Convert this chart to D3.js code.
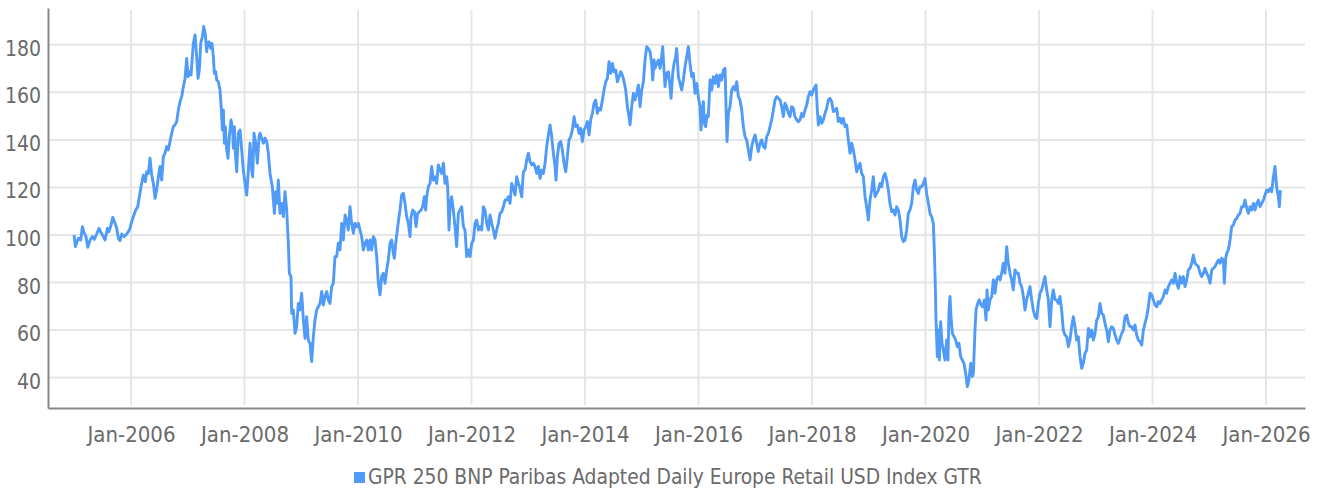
<!DOCTYPE html>
<html>
<head>
<meta charset="utf-8">
<script src="https://cdn.jsdelivr.net/npm/d3@7"></script>
<style>
  html, body { margin: 0; padding: 0; background: #fff; }
  #chart text { font-family: "Liberation Sans Narrow", "DejaVu Sans Condensed", Roboto, sans-serif; fill: #6a6a6a; }
</style>
</head>
<body>
<svg id="chart" width="1323" height="493"></svg>
<script>
(function () {
  "use strict";

  var seriesName = "GPR 250 BNP Paribas Adapted Daily Europe Retail USD Index GTR";
  var yTicks = [40, 60, 80, 100, 120, 140, 160, 180];
  var xTicks = [2006, 2008, 2010, 2012, 2014, 2016, 2018, 2020, 2022, 2024, 2026];

  // [decimal year, index value]
  var index = [
    [2004.996,100.0],[2005.019,95.1],[2005.072,98.6],[2005.113,97.9],[2005.143,103.5],[2005.172,101.0],
    [2005.207,99.3],[2005.237,94.8],[2005.278,97.9],[2005.319,99.3],[2005.354,98.2],[2005.395,100.4],
    [2005.436,102.8],[2005.471,101.0],[2005.513,99.3],[2005.542,97.9],[2005.583,102.8],[2005.612,101.4],
    [2005.648,104.2],[2005.677,107.4],[2005.718,104.9],[2005.748,102.8],[2005.777,98.6],[2005.806,97.6],
    [2005.836,100.4],[2005.877,99.3],[2005.924,100.4],[2005.953,101.4],[2005.982,102.8],[2006.012,105.6],
    [2006.041,107.7],[2006.082,110.5],[2006.118,111.9],[2006.147,116.1],[2006.176,120.3],[2006.217,125.2],
    [2006.253,122.4],[2006.276,126.6],[2006.306,125.9],[2006.335,132.3],[2006.364,125.2],[2006.394,121.7],
    [2006.423,115.4],[2006.452,118.9],[2006.482,124.5],[2006.511,128.8],[2006.540,123.1],[2006.570,133.0],
    [2006.599,134.4],[2006.629,137.2],[2006.658,135.8],[2006.687,139.3],[2006.717,142.8],[2006.746,145.6],
    [2006.775,146.3],[2006.805,147.7],[2006.834,152.6],[2006.864,156.1],[2006.893,158.2],[2006.922,162.4],
    [2006.952,165.9],[2006.981,174.3],[2007.005,166.6],[2007.028,168.7],[2007.057,167.3],[2007.098,180.6],
    [2007.128,184.2],[2007.157,175.0],[2007.181,165.9],[2007.204,169.4],[2007.228,180.6],[2007.257,183.4],
    [2007.281,187.7],[2007.310,184.2],[2007.333,177.1],[2007.351,180.6],[2007.375,181.3],[2007.404,178.5],
    [2007.427,180.6],[2007.451,175.0],[2007.468,168.0],[2007.492,168.7],[2007.510,165.2],[2007.539,164.5],
    [2007.568,161.0],[2007.592,152.6],[2007.609,144.2],[2007.627,152.6],[2007.645,138.6],[2007.662,145.6],
    [2007.686,135.8],[2007.709,132.3],[2007.733,141.4],[2007.762,148.4],[2007.792,144.2],[2007.803,136.5],
    [2007.821,145.6],[2007.839,134.4],[2007.862,126.6],[2007.891,142.8],[2007.921,144.2],[2007.950,135.8],
    [2007.979,127.3],[2008.009,121.7],[2008.038,116.8],[2008.068,127.3],[2008.097,138.6],[2008.126,127.3],
    [2008.144,124.5],[2008.167,142.8],[2008.197,138.6],[2008.226,130.2],[2008.256,141.4],[2008.273,142.8],
    [2008.303,140.7],[2008.332,138.6],[2008.361,140.7],[2008.391,139.3],[2008.420,134.4],[2008.449,125.9],
    [2008.490,120.3],[2008.526,109.1],[2008.549,118.2],[2008.572,113.3],[2008.596,123.1],[2008.625,109.1],
    [2008.655,113.3],[2008.684,107.7],[2008.713,118.2],[2008.743,110.5],[2008.772,96.5],[2008.790,83.9],
    [2008.819,82.5],[2008.831,67.0],[2008.860,68.4],[2008.890,58.6],[2008.919,61.4],[2008.948,71.2],
    [2008.972,68.4],[2009.007,75.5],[2009.037,64.2],[2009.066,56.5],[2009.095,65.6],[2009.125,55.8],
    [2009.154,54.4],[2009.183,46.7],[2009.213,57.2],[2009.242,64.2],[2009.271,68.4],[2009.301,69.8],
    [2009.330,71.2],[2009.360,76.2],[2009.389,70.5],[2009.418,74.1],[2009.448,76.2],[2009.477,72.7],
    [2009.506,71.2],[2009.536,78.3],[2009.565,79.7],[2009.594,90.9],[2009.624,90.9],[2009.653,96.5],
    [2009.683,93.7],[2009.712,104.9],[2009.741,97.9],[2009.771,108.4],[2009.800,106.3],[2009.829,102.1],
    [2009.859,111.9],[2009.888,104.9],[2009.918,100.7],[2009.947,104.9],[2009.976,103.5],[2010.006,104.9],
    [2010.035,102.1],[2010.064,99.3],[2010.094,93.7],[2010.123,96.5],[2010.153,97.9],[2010.182,93.7],
    [2010.211,97.9],[2010.241,93.7],[2010.270,99.3],[2010.299,97.9],[2010.329,90.9],[2010.358,79.7],
    [2010.387,74.8],[2010.417,82.5],[2010.446,83.9],[2010.476,79.7],[2010.505,85.3],[2010.534,89.5],
    [2010.564,96.5],[2010.593,97.9],[2010.622,92.3],[2010.640,90.2],[2010.664,96.5],[2010.693,102.1],
    [2010.722,107.7],[2010.740,110.5],[2010.769,116.8],[2010.799,117.5],[2010.828,113.3],[2010.857,107.7],
    [2010.887,104.9],[2010.916,99.3],[2010.934,107.7],[2010.963,110.5],[2010.993,109.8],[2011.022,103.5],
    [2011.051,109.1],[2011.081,109.8],[2011.110,110.5],[2011.139,111.9],[2011.169,116.1],[2011.192,110.5],
    [2011.210,116.1],[2011.239,120.3],[2011.269,121.7],[2011.298,128.8],[2011.327,123.1],[2011.357,124.5],
    [2011.386,121.7],[2011.415,129.5],[2011.445,127.3],[2011.474,125.9],[2011.504,130.2],[2011.533,121.7],
    [2011.562,124.5],[2011.580,120.3],[2011.603,102.1],[2011.627,113.3],[2011.650,116.1],[2011.680,110.5],
    [2011.709,103.5],[2011.738,95.1],[2011.768,109.1],[2011.797,110.5],[2011.827,111.9],[2011.856,103.5],
    [2011.885,102.1],[2011.915,90.9],[2011.944,93.7],[2011.974,90.9],[2012.003,96.5],[2012.033,97.9],
    [2012.062,104.9],[2012.091,106.3],[2012.121,102.1],[2012.150,103.5],[2012.180,102.1],[2012.209,111.9],
    [2012.238,110.5],[2012.268,104.9],[2012.297,102.1],[2012.326,108.4],[2012.356,104.9],[2012.385,102.1],
    [2012.414,98.6],[2012.444,102.1],[2012.473,104.9],[2012.503,109.1],[2012.532,109.8],[2012.561,111.9],
    [2012.591,114.7],[2012.620,114.7],[2012.649,116.1],[2012.679,113.3],[2012.708,121.7],[2012.738,119.6],
    [2012.767,116.8],[2012.796,124.5],[2012.826,121.7],[2012.855,119.6],[2012.884,116.1],[2012.914,126.6],
    [2012.943,127.3],[2012.973,131.6],[2013.002,134.4],[2013.031,130.9],[2013.061,129.5],[2013.090,130.2],
    [2013.119,128.8],[2013.149,125.9],[2013.178,128.8],[2013.207,123.8],[2013.237,127.3],[2013.266,125.9],
    [2013.296,130.2],[2013.325,137.2],[2013.354,142.1],[2013.384,146.3],[2013.413,141.4],[2013.442,134.4],
    [2013.472,128.8],[2013.489,123.1],[2013.513,133.0],[2013.542,138.6],[2013.572,139.3],[2013.601,135.8],
    [2013.630,130.2],[2013.660,126.6],[2013.689,133.0],[2013.718,140.0],[2013.748,141.4],[2013.777,144.2],
    [2013.807,149.8],[2013.836,145.6],[2013.865,146.3],[2013.895,142.8],[2013.924,144.9],[2013.953,139.3],
    [2013.983,144.2],[2014.012,145.6],[2014.041,147.7],[2014.071,142.1],[2014.100,148.4],[2014.130,151.2],
    [2014.159,155.4],[2014.188,156.8],[2014.218,151.2],[2014.247,153.3],[2014.276,152.6],[2014.306,156.8],
    [2014.335,161.0],[2014.365,164.5],[2014.394,165.9],[2014.423,172.9],[2014.453,168.0],[2014.482,172.2],
    [2014.511,168.7],[2014.541,169.4],[2014.570,164.5],[2014.600,166.6],[2014.629,168.7],[2014.658,167.3],
    [2014.688,164.5],[2014.717,161.0],[2014.746,154.0],[2014.776,149.8],[2014.793,146.3],[2014.823,154.0],
    [2014.852,159.6],[2014.881,156.8],[2014.911,159.6],[2014.940,163.1],[2014.970,154.0],[2014.999,161.0],
    [2015.028,164.5],[2015.058,173.6],[2015.087,179.2],[2015.116,178.5],[2015.146,177.1],[2015.175,172.2],
    [2015.193,165.2],[2015.216,173.6],[2015.234,170.1],[2015.263,172.2],[2015.293,173.6],[2015.322,170.1],
    [2015.351,175.0],[2015.369,179.2],[2015.392,169.4],[2015.410,162.4],[2015.439,168.0],[2015.469,168.7],
    [2015.498,162.4],[2015.516,157.5],[2015.545,168.0],[2015.569,172.2],[2015.598,175.0],[2015.615,178.5],
    [2015.645,166.6],[2015.674,163.8],[2015.703,161.0],[2015.733,165.2],[2015.762,170.8],[2015.792,175.0],
    [2015.821,179.2],[2015.850,172.2],[2015.880,166.6],[2015.909,168.0],[2015.938,159.6],[2015.968,163.8],
    [2015.997,158.2],[2016.026,154.0],[2016.044,144.2],[2016.068,152.6],[2016.085,156.1],[2016.103,147.0],
    [2016.126,145.6],[2016.150,150.5],[2016.173,149.8],[2016.203,165.2],[2016.232,161.0],[2016.261,166.6],
    [2016.291,163.8],[2016.320,167.3],[2016.350,162.4],[2016.379,167.3],[2016.408,165.2],[2016.438,169.4],
    [2016.467,170.1],[2016.485,154.0],[2016.502,139.3],[2016.526,151.2],[2016.555,154.0],[2016.585,161.0],
    [2016.614,162.4],[2016.643,161.0],[2016.673,164.5],[2016.702,158.2],[2016.731,156.8],[2016.761,152.6],
    [2016.790,145.6],[2016.819,141.4],[2016.849,140.0],[2016.878,135.8],[2016.908,131.6],[2016.937,137.2],
    [2016.966,140.0],[2016.996,142.1],[2017.025,138.6],[2017.054,135.1],[2017.084,138.6],[2017.113,140.0],
    [2017.142,137.2],[2017.172,136.5],[2017.201,141.4],[2017.231,142.8],[2017.260,145.6],[2017.289,148.4],
    [2017.319,152.6],[2017.348,156.8],[2017.377,158.2],[2017.407,157.5],[2017.436,156.8],[2017.466,154.0],
    [2017.495,149.8],[2017.524,155.4],[2017.554,154.0],[2017.583,151.2],[2017.612,149.8],[2017.642,154.0],
    [2017.671,153.3],[2017.700,149.8],[2017.730,148.4],[2017.759,147.7],[2017.789,148.4],[2017.818,151.2],
    [2017.847,149.8],[2017.877,152.6],[2017.906,154.7],[2017.935,158.2],[2017.965,160.3],[2017.994,158.9],
    [2018.024,161.0],[2018.053,162.4],[2018.071,163.1],[2018.094,152.6],[2018.112,146.3],[2018.141,149.8],
    [2018.170,147.0],[2018.200,148.4],[2018.229,151.2],[2018.258,153.3],[2018.288,156.8],[2018.317,157.5],
    [2018.347,156.1],[2018.376,151.9],[2018.405,152.6],[2018.435,153.3],[2018.464,147.7],[2018.493,149.1],
    [2018.523,147.0],[2018.552,149.1],[2018.582,145.6],[2018.611,146.3],[2018.640,140.0],[2018.670,134.4],
    [2018.699,138.6],[2018.728,135.8],[2018.758,131.6],[2018.787,126.6],[2018.816,128.8],[2018.846,130.2],
    [2018.875,125.9],[2018.905,124.5],[2018.934,116.1],[2018.963,111.9],[2018.993,106.3],[2019.022,114.7],
    [2019.051,118.9],[2019.081,124.5],[2019.110,116.1],[2019.140,117.5],[2019.169,118.9],[2019.198,121.7],
    [2019.228,120.3],[2019.257,124.5],[2019.286,125.9],[2019.316,123.1],[2019.345,118.9],[2019.374,113.3],
    [2019.404,109.8],[2019.433,110.5],[2019.462,108.4],[2019.492,111.9],[2019.521,110.5],[2019.551,106.3],
    [2019.580,99.3],[2019.609,97.2],[2019.639,97.9],[2019.668,102.1],[2019.697,109.1],[2019.727,110.5],
    [2019.756,113.3],[2019.785,120.3],[2019.815,123.1],[2019.844,118.9],[2019.874,117.5],[2019.903,120.3],
    [2019.932,120.3],[2019.962,121.7],[2019.991,123.8],[2020.020,117.5],[2020.050,113.3],[2020.079,109.1],
    [2020.108,107.7],[2020.138,104.9],[2020.155,93.7],[2020.173,78.3],[2020.185,64.2],[2020.208,48.8],
    [2020.226,60.0],[2020.244,47.4],[2020.267,63.5],[2020.291,54.4],[2020.314,51.6],[2020.343,47.4],
    [2020.373,55.8],[2020.396,47.4],[2020.414,68.4],[2020.432,74.1],[2020.449,65.6],[2020.473,58.6],
    [2020.502,57.2],[2020.531,55.8],[2020.561,53.0],[2020.590,54.4],[2020.619,48.8],[2020.649,47.4],
    [2020.678,46.0],[2020.708,41.8],[2020.737,36.2],[2020.766,39.0],[2020.796,46.0],[2020.825,40.4],
    [2020.843,41.8],[2020.872,60.0],[2020.890,68.4],[2020.919,71.2],[2020.948,72.7],[2020.978,70.5],
    [2021.007,69.8],[2021.037,72.7],[2021.066,64.2],[2021.084,76.9],[2021.107,68.4],[2021.136,72.7],
    [2021.166,74.1],[2021.195,81.1],[2021.224,75.5],[2021.254,81.1],[2021.283,82.5],[2021.313,81.1],
    [2021.342,83.9],[2021.371,88.1],[2021.401,83.9],[2021.430,95.1],[2021.459,88.1],[2021.489,83.9],
    [2021.518,81.1],[2021.547,76.9],[2021.577,85.3],[2021.606,83.9],[2021.636,83.9],[2021.665,79.7],
    [2021.694,78.3],[2021.724,74.1],[2021.753,68.4],[2021.782,72.7],[2021.812,75.5],[2021.841,78.3],
    [2021.870,72.7],[2021.900,68.4],[2021.929,65.6],[2021.959,64.9],[2021.988,71.2],[2022.017,75.5],
    [2022.047,76.9],[2022.076,79.7],[2022.105,82.5],[2022.135,76.9],[2022.164,72.7],[2022.194,61.4],
    [2022.223,72.7],[2022.252,76.9],[2022.282,72.7],[2022.311,72.7],[2022.340,71.2],[2022.370,74.1],
    [2022.399,68.4],[2022.428,60.0],[2022.458,57.9],[2022.487,57.2],[2022.517,53.0],[2022.546,55.8],
    [2022.575,61.4],[2022.605,65.6],[2022.634,61.4],[2022.663,55.8],[2022.693,57.2],[2022.722,48.8],
    [2022.752,43.9],[2022.781,46.0],[2022.810,50.2],[2022.840,51.6],[2022.870,60.7],[2022.899,57.2],
    [2022.928,60.0],[2022.958,55.8],[2022.987,58.6],[2023.016,64.2],[2023.046,65.6],[2023.075,71.2],
    [2023.105,67.0],[2023.134,66.3],[2023.163,62.8],[2023.193,60.0],[2023.222,55.1],[2023.251,60.0],
    [2023.281,61.4],[2023.310,60.7],[2023.340,57.9],[2023.369,55.8],[2023.398,54.4],[2023.428,56.5],
    [2023.457,58.6],[2023.486,60.0],[2023.516,65.6],[2023.545,66.3],[2023.575,62.8],[2023.604,61.4],
    [2023.633,61.4],[2023.663,60.0],[2023.692,62.1],[2023.721,57.9],[2023.751,55.8],[2023.780,55.1],
    [2023.810,53.7],[2023.839,60.0],[2023.868,62.8],[2023.898,65.6],[2023.927,69.8],[2023.956,75.5],
    [2023.986,74.8],[2024.015,72.7],[2024.045,70.5],[2024.074,69.8],[2024.103,72.0],[2024.133,71.2],
    [2024.162,72.7],[2024.191,74.1],[2024.221,76.9],[2024.250,75.5],[2024.279,78.3],[2024.309,79.7],
    [2024.338,81.1],[2024.368,79.7],[2024.397,83.9],[2024.426,79.7],[2024.456,77.6],[2024.485,82.5],
    [2024.514,79.7],[2024.544,82.5],[2024.573,78.3],[2024.603,81.1],[2024.632,85.3],[2024.661,86.0],
    [2024.691,88.1],[2024.720,91.6],[2024.749,88.1],[2024.779,87.4],[2024.808,86.7],[2024.838,83.9],
    [2024.867,82.5],[2024.896,83.9],[2024.926,86.0],[2024.955,83.9],[2024.984,82.5],[2025.014,79.7],
    [2025.043,85.3],[2025.073,86.0],[2025.102,86.7],[2025.131,88.1],[2025.161,89.5],[2025.190,88.1],
    [2025.219,90.2],[2025.249,89.5],[2025.266,79.7],[2025.290,90.2],[2025.307,92.3],[2025.337,93.7],
    [2025.366,97.9],[2025.395,103.5],[2025.425,104.2],[2025.454,106.3],[2025.484,107.0],[2025.513,108.4],
    [2025.542,109.1],[2025.572,111.9],[2025.601,111.9],[2025.630,114.7],[2025.660,111.2],[2025.689,109.1],
    [2025.719,111.9],[2025.748,110.5],[2025.777,113.3],[2025.807,110.5],[2025.836,113.3],[2025.865,114.7],
    [2025.895,111.9],[2025.924,113.3],[2025.954,114.7],[2025.983,116.8],[2026.012,118.9],[2026.042,118.2],
    [2026.071,119.6],[2026.100,118.2],[2026.130,124.5],[2026.159,128.8],[2026.177,123.1],[2026.194,118.9],
    [2026.218,116.1],[2026.235,111.9],[2026.253,118.9]
  ];

  window.GPR = {
    svg: null,
    plot: { left: 48, right: 1305, top: 8, bottom: 408 },

    build: function () {
      this.svg = d3.select("#chart");
      this.x = d3.scaleLinear().domain([2004.537, 2026.687]).range([this.plot.left, this.plot.right]);
      this.y = d3.scaleLinear().domain([27.2, 195.5]).range([this.plot.bottom, this.plot.top]);

      this.buildGrid();
      this.buildAxes();
      this.buildLine();
      this.buildLegend();
    },

    buildGrid: function () {
      var x = this.x, y = this.y, p = this.plot;
      var grid = this.svg.append("g").attr("class", "grid")
        .attr("stroke", "#e6e6e6").attr("stroke-width", 2);

      grid.selectAll("line.h").data(yTicks).enter()
        .append("line").attr("class", "h")
        .attr("x1", p.left).attr("x2", p.right)
        .attr("y1", function (d) { return y(d); })
        .attr("y2", function (d) { return y(d); });

      grid.selectAll("line.v").data(xTicks).enter()
        .append("line").attr("class", "v")
        .attr("y1", p.top + 2).attr("y2", p.bottom - 3)
        .attr("x1", function (d) { return x(d); })
        .attr("x2", function (d) { return x(d); });
    },

    buildAxes: function () {
      var p = this.plot;

      var yAxis = this.svg.append("g")
        .attr("transform", "translate(" + p.left + ",0)")
        .call(d3.axisLeft(this.y).tickValues(yTicks).tickSize(0).tickPadding(7));
      yAxis.selectAll("text").attr("font-size", 21).attr("dy", "0.5em");

      var xAxis = this.svg.append("g")
        .attr("transform", "translate(0," + p.bottom + ")")
        .call(d3.axisBottom(this.x).tickValues(xTicks).tickSize(0).tickPadding(18)
          .tickFormat(function (d) { return "Jan-" + d; }));
      xAxis.selectAll("text").attr("font-size", 22);

      this.svg.selectAll(".domain").attr("stroke", "#888").attr("stroke-width", 2);
    },

    buildLine: function () {
      var x = this.x, y = this.y;
      var line = d3.line()
        .x(function (d) { return x(d[0]); })
        .y(function (d) { return y(d[1]); });

      this.svg.append("path")
        .datum(index)
        .attr("fill", "none")
        .attr("stroke", "#4f9bf7")
        .attr("stroke-width", 2.9)
        .attr("stroke-linejoin", "round")
        .attr("d", line);
    },

    buildLegend: function () {
      var legend = this.svg.append("g").attr("transform", "translate(354,472)");
      legend.append("rect").attr("width", 11).attr("height", 11).attr("fill", "#4f9bf7");
      legend.append("text").attr("x", 14).attr("y", 12)
        .attr("font-size", 20.8).text(seriesName);
    }
  };

  window.GPR.build();
}());
</script>
</body>
</html>
